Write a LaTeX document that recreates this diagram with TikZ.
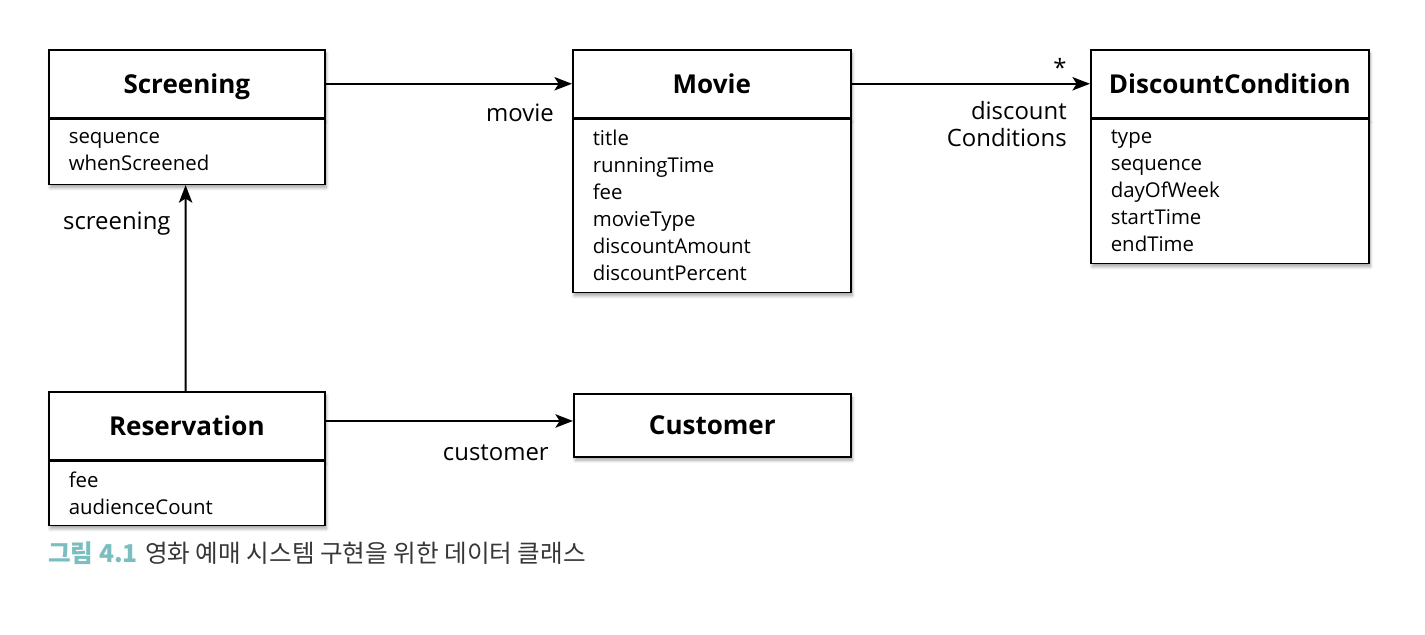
\documentclass[tikz,border=0pt]{standalone}
\usepackage{fontspec}
\usepackage{tikz}
\usetikzlibrary{arrows.meta,shadows.blur}
\setmainfont{Open Sans}
\newfontfamily\krfont{Noto Sans CJK KR}
\definecolor{figteal}{RGB}{122,190,192}
\definecolor{figgray}{RGB}{55,55,55}

\tikzset{
  classhead/.style={draw, fill=white, line width=1.1pt, anchor=north west,
    minimum height=1.7cm, inner sep=0pt, text height=13.2pt, text depth=0pt,
    font=\fontsize{18.5}{22}\selectfont\bfseries,
    blur shadow={shadow xshift=1pt, shadow yshift=-2.5pt, shadow blur steps=8, shadow opacity=35}},
  classbody/.style={draw, fill=white, line width=1.1pt, anchor=north west,
    inner xsep=0.5cm, inner ysep=0pt, align=left,
    font=\fontsize{14.5}{19.2}\selectfont,
    blur shadow={shadow xshift=1pt, shadow yshift=-2.5pt, shadow blur steps=8, shadow opacity=35}},
  assoc/.style={line width=1.5pt, -{Stealth[length=12.5pt, width=9.5pt, inset=3pt]}},
  rolename/.style={font=\fontsize{17}{19.2}\selectfont, inner sep=0pt}
}

\begin{document}
\begin{tikzpicture}[x=0.025cm, y=0.025cm]

\useasboundingbox (0,0) rectangle (1425,635);

\begin{scope}

% class boxes
\node[classhead, minimum width=6.9cm] (scr) at (48,586) {Screening};
\node[classbody, text width=5.9cm, minimum height=1.625cm] (scrattr) at (scr.south west)
  {sequence\\whenScreened};

\node[classhead, minimum width=6.95cm] (mov) at (572,586) {Movie};
\node[classbody, text width=5.95cm, minimum height=4.325cm] (movattr) at (mov.south west)
  {title\\runningTime\\fee\\movieType\\discountAmount\\discountPercent};

\node[classhead, minimum width=6.95cm] (disc) at (1090,586) {DiscountCondition};
\node[classbody, text width=5.95cm, minimum height=3.6cm] (discattr) at (disc.south west)
  {type\\sequence\\dayOfWeek\\startTime\\endTime};

\node[classhead, minimum width=6.9cm] (res) at (48,244) {Reservation};
\node[classbody, text width=5.9cm, minimum height=1.6cm] (resattr) at (res.south west)
  {fee\\audienceCount};

\node[classhead, minimum width=6.925cm, minimum height=1.575cm] (cust) at (573,242) {Customer};

% associations
\draw[assoc] (scr.east) -- (mov.west);
\draw[assoc] (mov.east) -- (disc.west);
\draw[assoc] ([yshift=0.12cm]res.east) -- ([yshift=0.12cm]res.east -| cust.west);
\draw[assoc] ([xshift=-0.03cm]res.north) -- ([xshift=-0.03cm]scrattr.south);

% role names
\node[rolename, anchor=east] (lmovie) at ([xshift=-0.45cm, yshift=-0.73cm]mov.west) {movie};
\node[rolename, anchor=east, align=right] (ldisc) at ([xshift=-0.575cm, yshift=-1.01cm]disc.west)
  {discount\\Conditions};
\node[rolename, anchor=east] (lmany) at ([xshift=-0.58cm, yshift=0.42cm]disc.west) {*};
\node[rolename, anchor=east] (lcust) at ([xshift=-0.6cm, yshift=-0.69cm]cust.west) {customer};
\node[rolename, anchor=east] (lscr) at ([xshift=-0.4cm, yshift=-0.95cm]scrattr.south) {screening};

\end{scope}

% caption
\node[anchor=west, inner sep=0pt, font=\krfont\fontsize{17.5}{20}\selectfont] (caption) at (48,82)
  {\textcolor{figteal}{\bfseries 그림 4.1}\hspace{0.3em}\textcolor{figgray}{영화 예매 시스템 구현을 위한 데이터 클래스}};

\end{tikzpicture}
\end{document}
